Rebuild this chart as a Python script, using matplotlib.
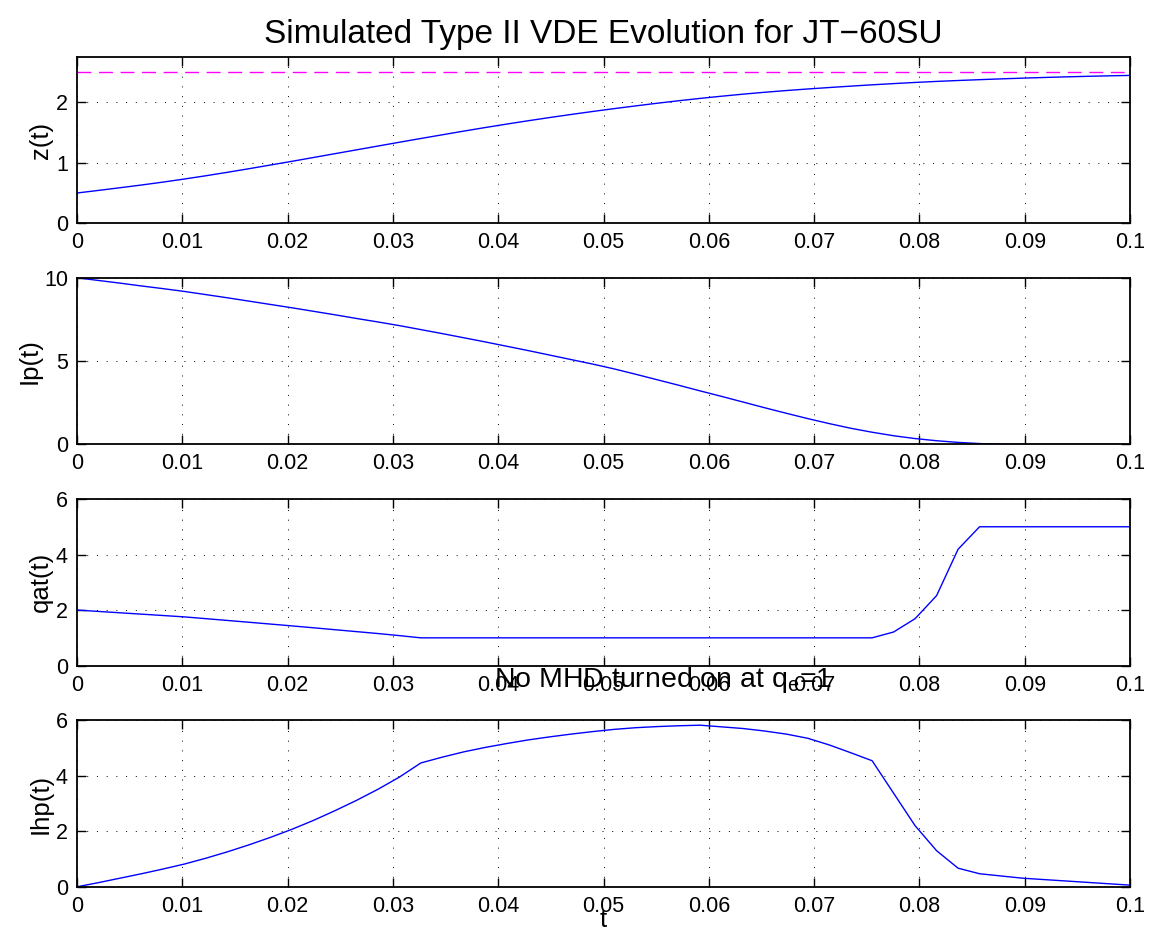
import numpy as np
import matplotlib
matplotlib.use("Agg")
import matplotlib.pyplot as plt

plt.rcParams['font.family'] = ['Liberation Sans', 'DejaVu Sans']
plt.rcParams['mathtext.default'] = 'regular'

# ---- data -------------------------------------------------------------
t = np.linspace(0.0, 0.1, 50)

z = [0.500, 0.543, 0.587, 0.632, 0.680, 0.731, 0.785, 0.842, 0.901, 0.962,
     1.023, 1.086, 1.149, 1.212, 1.275, 1.338, 1.400, 1.461, 1.522, 1.581,
     1.638, 1.693, 1.746, 1.797, 1.846, 1.893, 1.938, 1.982, 2.023, 2.062,
     2.098, 2.132, 2.163, 2.191, 2.217, 2.241, 2.264, 2.286, 2.306, 2.325,
     2.342, 2.357, 2.371, 2.384, 2.396, 2.407, 2.417, 2.426, 2.434, 2.441]

z_limit = 2.5

Ip = [10.00, 9.84, 9.68, 9.51, 9.35, 9.18, 8.99, 8.80, 8.60, 8.40,
      8.20, 7.99, 7.78, 7.56, 7.35, 7.13, 6.89, 6.65, 6.40, 6.15,
      5.89, 5.63, 5.36, 5.09, 4.82, 4.53, 4.21, 3.88, 3.55, 3.21,
      2.88, 2.54, 2.20, 1.87, 1.55, 1.25, 0.97, 0.73, 0.52, 0.35,
      0.22, 0.12, 0.05, 0.01, 0.00, 0.00, 0.00, 0.00, 0.00, 0.00]

qat = [2.000, 1.951, 1.902, 1.853, 1.804, 1.754, 1.690, 1.626, 1.561, 1.496,
       1.430, 1.362, 1.293, 1.224, 1.155, 1.080, 1.000, 1.000, 1.000, 1.000,
       1.000, 1.000, 1.000, 1.000, 1.000, 1.000, 1.000, 1.000, 1.000, 1.000,
       1.000, 1.000, 1.000, 1.000, 1.000, 1.000, 1.000, 1.000, 1.210, 1.690,
       2.520, 4.190, 5.000, 5.000, 5.000, 5.000, 5.000, 5.000, 5.000, 5.000]

Ihp = [0.00, 0.15, 0.31, 0.47, 0.64, 0.82, 1.03, 1.26, 1.51, 1.78,
       2.07, 2.39, 2.74, 3.11, 3.51, 3.95, 4.46, 4.67, 4.86, 5.02,
       5.16, 5.29, 5.40, 5.50, 5.59, 5.67, 5.73, 5.77, 5.80, 5.82,
       5.76, 5.70, 5.61, 5.50, 5.35, 5.11, 4.83, 4.54, 3.37, 2.20,
       1.30, 0.67, 0.47, 0.39, 0.31, 0.26, 0.21, 0.16, 0.11, 0.06]

xticks = [0, 0.01, 0.02, 0.03, 0.04, 0.05, 0.06, 0.07, 0.08, 0.09, 0.1]
xticklabels = ['0', '0.01', '0.02', '0.03', '0.04', '0.05', '0.06', '0.07', '0.08', '0.09', '0.1']

panels = [
    ("z(t)", z, (0, 2.75), [0, 1, 2]),
    ("Ip(t)", Ip, (0, 10), [0, 5, 10]),
    ("qat(t)", qat, (0, 6), [0, 2, 4, 6]),
    ("Ihp(t)", Ihp, (0, 6), [0, 2, 4, 6]),
]

title = "Simulated Type II VDE Evolution for JT\u221260SU"
subtitle = r"No MHD turned on at $\mathregular{q_e}$=1"

# ---- figure -----------------------------------------------------------
W, H = 1149, 947
fig = plt.figure(figsize=(W / 100, H / 100), dpi=100)

left = 77 / W
width = 1053 / W
height = 166.6 / H
tops = [56.7, 277.8, 499.0, 720.2]

TFS = 15.5
LFS = 18.5
axes = []
for (lab, y, ylim, yt), top in zip(panels, tops):
    ax = fig.add_axes([left, 1 - (top + 166.6) / H, width, height])
    ax.plot(t, y, color='#0000ff', lw=1.0)
    ax.set_xlim(0, 0.1)
    ax.set_ylim(*ylim)
    ax.set_xticks(xticks)
    ax.set_xticklabels(xticklabels)
    ax.set_yticks(yt)
    ax.set_ylabel(lab, fontsize=LFS, labelpad=2)
    ax.tick_params(direction='in', length=6.5, width=1.0, top=True, right=True,
                   labelsize=TFS, pad=6.5)
    ax.grid(True, color='k', linestyle=(0, (1, 9)), lw=0.7)
    for sp in ax.spines.values():
        sp.set_linewidth(1.3)
    axes.append(ax)

axes[0].axhline(z_limit, color='#ff00ff', lw=1.0, dashes=(10, 5.5))
axes[3].set_xlabel('t', fontsize=LFS, labelpad=-6)

fig.text(603.5 / W, 1 - 43 / H, title, ha='center', va='baseline', fontsize=24)
fig.text(663 / W, 1 - 687 / H, subtitle, ha='center', va='baseline', fontsize=20.5)

fig.savefig('out.png', dpi=100)
